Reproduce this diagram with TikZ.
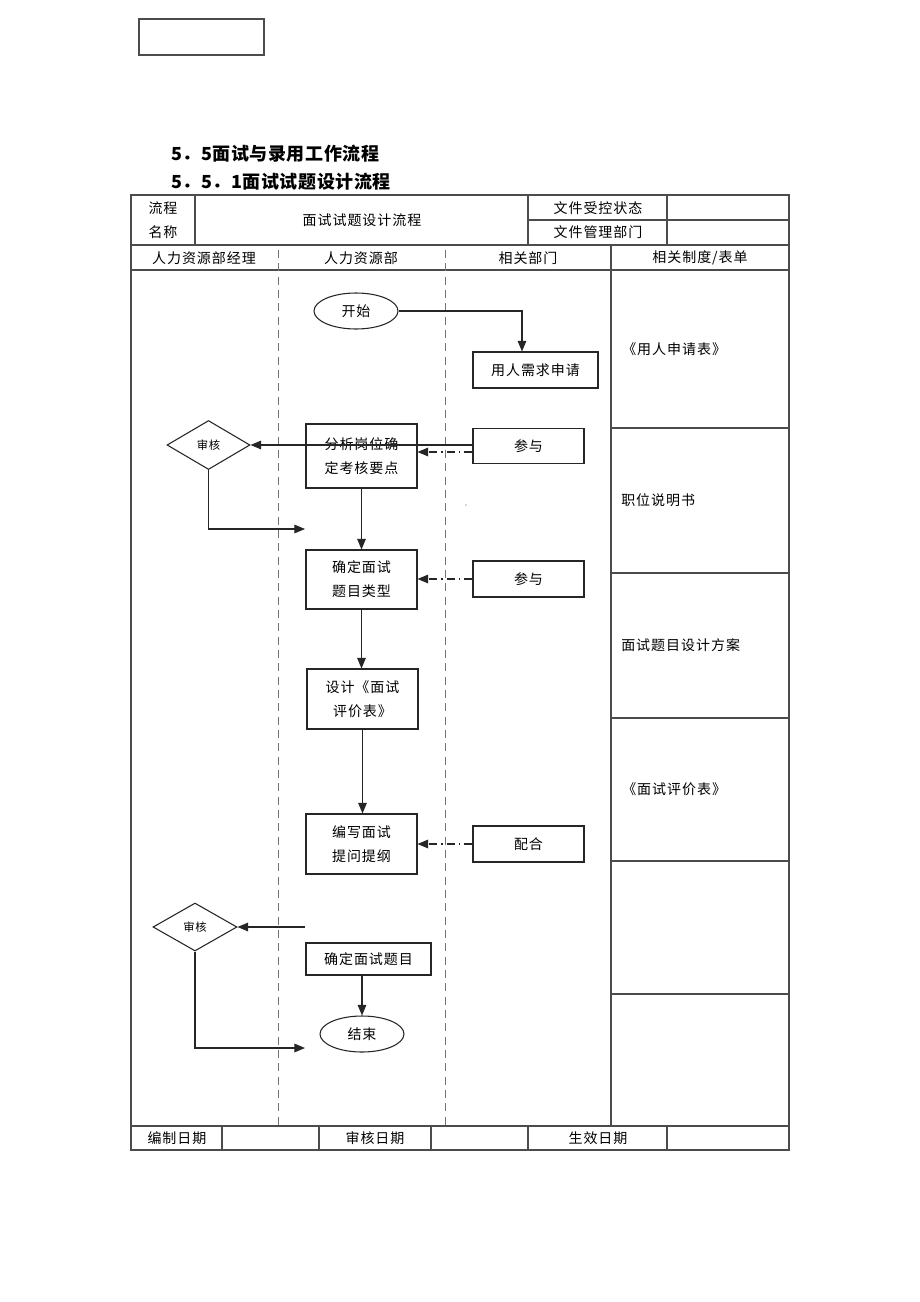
\documentclass[tikz,border=0pt]{standalone}
\usepackage{fontspec}
\usetikzlibrary{shapes.geometric,arrows.meta,calc}
\newfontfamily\cjk[LetterSpace=7]{Noto Sans CJK SC}
\newfontfamily\cjkh[LetterSpace=3]{Noto Sans CJK SC}
\colorlet{tblc}{black!70}
\colorlet{dashc}{black!55}
\tikzset{
  tbl/.style={draw=tblc, line width=0.9pt},
  lane/.style={draw=dashc, line width=0.7pt, dash pattern=on 6pt off 4pt},
  txt/.style={font=\cjk\fontsize{10.5}{12}\selectfont, inner sep=0pt},
  box/.style={draw=black!85, line width=0.8pt, font=\cjk\fontsize{10.5}{18}\selectfont, align=center, inner sep=1pt},
  oval/.style={ellipse, draw=black!85, line width=0.8pt, font=\cjk\fontsize{10.5}{12}\selectfont, inner sep=0pt, minimum width=63pt, minimum height=27pt},
  dia/.style={diamond, draw=black!85, line width=0.8pt, font=\cjk\fontsize{8.5}{10}\selectfont, inner sep=0pt},
  arr/.style={draw=black!85, line width=0.8pt, -{Triangle[length=8pt,width=6.5pt]}},
  darr/.style={draw=black!85, line width=0.8pt, dash pattern=on 6pt off 3pt on 1.2pt off 3pt, -{Triangle[length=8pt,width=6.5pt]}},
  head/.style={anchor=west, inner sep=0pt, font=\cjkh\bfseries\fontsize{13.5}{15}\selectfont}
}
\begin{document}
\begin{tikzpicture}[x=0.75pt,y=-0.75pt]
\useasboundingbox[fill=white] (0,0) rectangle (920,1302);
% top-left empty box
\draw[tbl] (139,19) rectangle (264,55);
% headings
\node[head] (h1) at (171,154) {5．5面试与录用工作流程};
\node[head] (h2) at (171,182) {5．5．1面试试题设计流程};
% table outline
\draw[tbl] (131,195) rectangle (789,1150);
\draw[tbl] (195,195) -- (195,245);
\draw[tbl] (528,195) -- (528,245);
\draw[tbl] (667,195) -- (667,245);
\draw[tbl] (528,220) -- (789,220);
\draw[tbl] (131,245) -- (789,245);
\draw[tbl] (131,270) -- (789,270);
\draw[tbl] (611,245) -- (611,1126);
\draw[tbl] (131,1126) -- (789,1126);
\foreach \yy in {428,573,718,861,994} \draw[tbl] (611,\yy) -- (789,\yy);
\foreach \xx in {222,319,431,528,667} \draw[tbl] (\xx,1126) -- (\xx,1150);
% lanes
\draw[lane] (278,250) -- (278,1126);
\draw[lane] (445,250) -- (445,1126);
% header texts
\node[txt] (t1) at (163,208) {流程};
\node[txt] (t2) at (163,232) {名称};
\node[txt] (t3) at (362,220) {面试试题设计流程};
\node[txt] (t4) at (598,208) {文件受控状态};
\node[txt] (t5) at (598,232) {文件管理部门};
\node[txt] (c1) at (204,258) {人力资源部经理};
\node[txt] (c2) at (361,258) {人力资源部};
\node[txt] (c3) at (528,258) {相关部门};
\node[txt] (c4) at (700,258) {相关制度/表单};
% right column
\node[txt, anchor=west] (f1) at (622,349) {《用人申请表》};
\node[txt, anchor=west] (f2) at (621,500) {职位说明书};
\node[txt, anchor=west] (f3) at (621,645) {面试题目设计方案};
\node[txt, anchor=west] (f4) at (622,789) {《面试评价表》};
% footer
\node[txt] (b1) at (177,1138) {编制日期};
\node[txt] (b2) at (375,1138) {审核日期};
\node[txt] (b3) at (598,1138) {生效日期};
% flow nodes
\node[oval] (start) at (356,311) {开始};
\node[box, minimum width=93.75pt, minimum height=27pt] (need) at (535.5,370) {用人需求申请};
\node[dia, minimum width=62.25pt, minimum height=36.75pt] (sh1) at (208.5,445) {审核};
\node[box, minimum width=83.25pt, minimum height=48pt] (fx) at (361.5,456) {分析岗位确\\定考核要点};
\node[box, minimum width=83.25pt, minimum height=26.25pt] (cy1) at (528.5,446) {参与};
\node[box, minimum width=83.25pt, minimum height=44.25pt] (qd) at (361.5,579.5) {确定面试\\题目类型};
\node[box, minimum width=83.25pt, minimum height=27pt] (cy2) at (528.5,579) {参与};
\node[box, minimum width=83.25pt, minimum height=45pt] (sj) at (362.5,699) {设计《面试\\评价表》};
\node[box, minimum width=83.25pt, minimum height=45pt] (bx) at (361.5,844) {编写面试\\提问提纲};
\node[box, minimum width=83.25pt, minimum height=27pt] (ph) at (528.5,844) {配合};
\node[dia, minimum width=63pt, minimum height=36pt] (sh2) at (195,927) {审核};
\node[box, minimum width=93.75pt, minimum height=24pt] (tm) at (368.5,959) {确定面试题目};
\node[oval] (end) at (362,1034) {结束};
\coordinate (r1) at (305,529);
\coordinate (r2) at (305,927);
\coordinate (r3) at (305,1048);
\coordinate (d1) at ($(cy1.west)+(0,6)$);
\coordinate (n1) at ($(need.north)+(-13.5,0)$);
% connectors
\draw[arr] (start.east) -| (n1);
\draw[arr] (cy1.west |- sh1.east) -- (sh1.east);
\draw[darr] (d1) -- (d1 -| fx.east);
\draw[arr] (sh1.south) |- (r1);
\draw[arr] (fx.south) -- (qd.north);
\draw[darr] (cy2.west) -- (cy2.west -| qd.east);
\draw[arr] (qd.south) -- (qd.south |- sj.north);
\draw[arr] (sj.south) -- (sj.south |- bx.north);
\draw[darr] (ph.west) -- (ph.west -| bx.east);
\draw[arr] (r2) -- (sh2.east);
\draw[arr] (end.north |- tm.south) -- (end.north);
\draw[arr] (sh2.south) |- (r3);
\fill[black!70] (466,505) circle (0.5pt);
\end{tikzpicture}
\end{document}
